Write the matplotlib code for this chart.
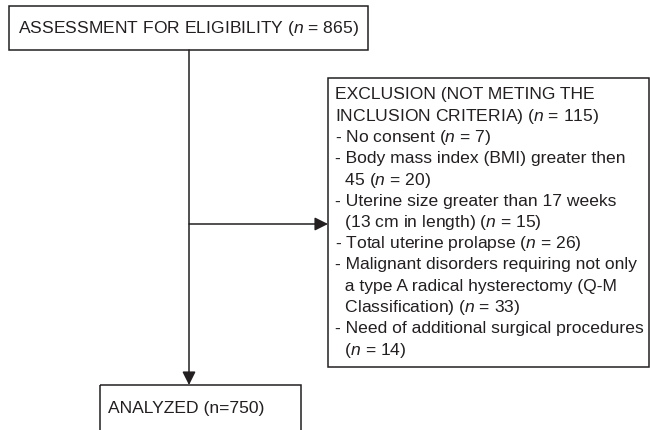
import matplotlib.pyplot as plt
from matplotlib.patches import Rectangle

plt.rcParams['font.family'] = ['Liberation Sans', 'DejaVu Sans']
plt.rcParams['mathtext.fontset'] = 'custom'
plt.rcParams['mathtext.rm'] = 'Liberation Sans'
plt.rcParams['mathtext.it'] = 'Liberation Sans:italic'

# flowchart numbers
n_assessed = 865
n_excluded = 115
n_analyzed = 750
reasons = [
    ['No consent'],
    ['Body mass index (BMI) greater then', '45'],
    ['Uterine size greater than 17 weeks', '(13 cm in length)'],
    ['Total uterine prolapse'],
    ['Malignant disorders requiring not only',
     'a type A radical hysterectomy (Q-M', 'Classification)'],
    ['Need of additional surgical procedures', ''],
]
reason_n = [7, 20, 15, 26, 33, 14]

ink = '#231f20'
fs = 12.6
fig = plt.figure(figsize=(6.5, 4.3), dpi=100)
ax = fig.add_axes([0, 0, 1, 1])
ax.set_xlim(0, 650)
ax.set_ylim(430, 0)
ax.axis('off')

def box(x0, y0, x1, y1):
    ax.add_patch(Rectangle((x0, y0), x1 - x0, y1 - y0, fill=False,
                           edgecolor=ink, lw=1.1, clip_on=False))

# boxes
box(9, 6, 368, 50)
box(328, 78, 649, 367)
box(100, 385, 301, 440)

ax.text(188.5, 29, 'ASSESSMENT FOR ELIGIBILITY ($n$ = %d)' % n_assessed,
        ha='center', va='center', fontsize=fs, color=ink)
ax.text(108, 409, 'ANALYZED (n=%d)' % n_analyzed,
        ha='left', va='center', fontsize=fs, color=ink)

# exclusion text
lines = ['EXCLUSION (NOT METING THE',
         'INCLUSION CRITERIA) ($n$ = %d)' % n_excluded]
for parts, k in zip(reasons, reason_n):
    for i, p in enumerate(parts):
        s = ('- ' if i == 0 else '  ') + p
        if i == len(parts) - 1:
            s = s + (' ' if p else '') + '($n$ = %d)' % k
        lines.append(s)
y = 95
for s in lines:
    ax.text(335, y, s, ha='left', va='center', fontsize=fs, color=ink)
    y += 21.25

# arrows
arr = dict(arrowstyle='-|>,head_length=0.5,head_width=0.25', color=ink,
           lw=1.1, mutation_scale=16, shrinkA=0, shrinkB=0)
ax.annotate('', xy=(189, 385), xytext=(189, 50), arrowprops=arr)
ax.annotate('', xy=(328, 224), xytext=(189, 224), arrowprops=arr)

plt.savefig('out.png', dpi=100)
